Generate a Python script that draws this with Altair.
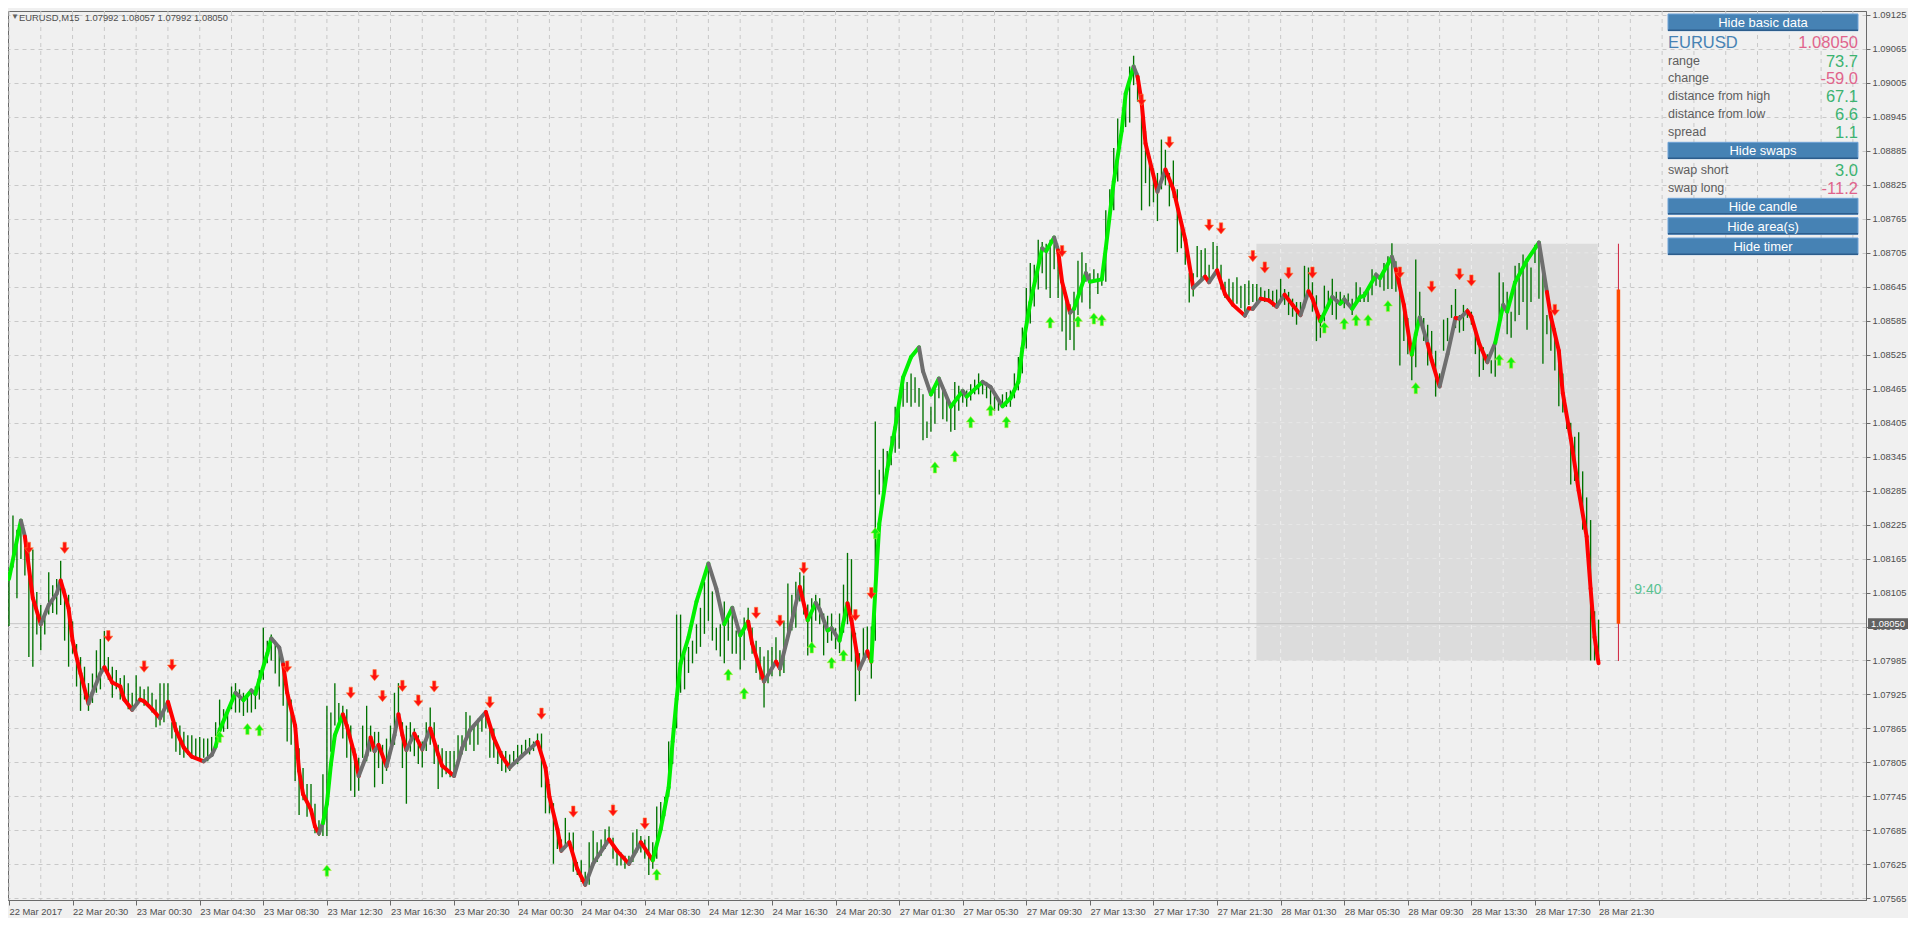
import json
import altair as alt
import pandas as pd

# ---------------- data (prices in 1e-5 units) ----------------
symbol = "EURUSD"
timeframe = "M15"
last_ohlc = ["1.07992", "1.08057", "1.07992", "1.08050"]

x_labels = ["22 Mar 2017", "22 Mar 20:30", "23 Mar 00:30", "23 Mar 04:30", "23 Mar 08:30",
            "23 Mar 12:30", "23 Mar 16:30", "23 Mar 20:30", "24 Mar 00:30", "24 Mar 04:30",
            "24 Mar 08:30", "24 Mar 12:30", "24 Mar 16:30", "24 Mar 20:30", "27 Mar 01:30",
            "27 Mar 05:30", "27 Mar 09:30", "27 Mar 13:30", "27 Mar 17:30", "27 Mar 21:30",
            "28 Mar 01:30", "28 Mar 05:30", "28 Mar 09:30", "28 Mar 13:30", "28 Mar 17:30",
            "28 Mar 21:30"]
x_label_bar = [0, 16, 32, 48, 64, 80, 96, 112, 128, 144, 160, 176, 192, 208, 224, 240,
               256, 272, 288, 304, 320, 336, 352, 368, 384, 400]
y_ticks = [1.07565, 1.07625, 1.07685, 1.07745, 1.07805, 1.07865, 1.07925, 1.07985, 1.08045,
           1.08105, 1.08165, 1.08225, 1.08285, 1.08345, 1.08405, 1.08465, 1.08525, 1.08585,
           1.08645, 1.08705, 1.08765, 1.08825, 1.08885, 1.08945, 1.09005, 1.09065, 1.09125]

bar_high = [
    108141, 108241, 108216, 108233, 108198, 108192, 108181, 108106, 108083, 108072,
    108141, 108118, 108129, 108161, 108112, 108101, 108054, 108014, 107991, 107974,
    107945, 107962, 108003, 108023, 108037, 107991, 107974, 107968, 107954, 107959,
    107945, 107928, 107959, 107939, 107934, 107939, 107928, 107916, 107945, 107945,
    107945, 107876, 107876, 107870, 107859, 107853, 107853, 107847, 107850, 107847,
    107847, 107850, 107876, 107916, 107899, 107893, 107939, 107945, 107934, 107928,
    107922, 107934, 107939, 107968, 108043, 108020, 108031, 108020, 108003, 107985,
    107928, 107916, 107870, 107830, 107795, 107767, 107767, 107732, 107703, 107784,
    107905, 107893, 107945, 107910, 107905, 107899, 107870, 107830, 107813, 107870,
    107905, 107870, 107859, 107859, 107836, 107847, 107870, 107928, 107945, 107876,
    107870, 107876,
    107865, 107853, 107842, 107876, 107902, 107876, 107836, 107830, 107825, 107825,
    107825, 107853, 107853, 107894, 107888, 107871, 107882, 107888, 107894, 107876,
    107865, 107836, 107825, 107825, 107819, 107825, 107836, 107836, 107845, 107848,
    107842, 107856, 107856, 107796, 107767, 107733, 107687, 107669, 107707, 107681,
    107681, 107629, 107632, 107612, 107664, 107684, 107664, 107669, 107687, 107692,
    107672, 107652, 107646, 107640, 107640, 107681, 107687, 107675, 107669, 107675,
    107664, 107727, 107735, 107744, 107842, 107865, 108066, 108066, 107997, 108009,
    108020, 108049, 108078, 108124, 108153, 108107, 108043, 108049, 108089, 108066,
    108072, 108038, 108038, 108061, 108078, 108043, 108020, 108009, 107992, 108003,
    108009, 108026, 108003, 108055, 108121, 108101, 108124, 108141, 108135, 108084,
    108095, 108101, 108095,
    108068, 108064, 108068, 108042, 108068, 108119, 108175, 108164, 108034, 107998,
    108042, 108045, 108045, 108407, 108322, 108359, 108355, 108381, 108433, 108440,
    108488, 108477, 108492, 108485, 108466, 108455, 108407, 108433, 108470, 108485,
    108470, 108448, 108437, 108477, 108470, 108462, 108462, 108473, 108481, 108492,
    108477, 108477, 108470, 108455, 108448, 108455, 108459, 108462, 108492, 108521,
    108573, 108643, 108687, 108684, 108728, 108724, 108721, 108728, 108732, 108717,
    108669, 108625, 108614, 108636, 108691, 108706, 108687, 108669, 108676, 108669,
    108673, 108780, 108817, 108890, 108942, 108942, 108994, 109034, 109053, 109023,
    108986, 108920, 108876, 108854, 108846, 108905, 108887, 108846, 108868, 108817,
    108750, 108735, 108669, 108669, 108717, 108710, 108713, 108684, 108724, 108717,
    108684, 108654,
    108659, 108653, 108662, 108647, 108650, 108656, 108650, 108650, 108644, 108638,
    108641, 108638, 108640, 108659, 108641, 108636, 108624, 108618, 108618, 108682,
    108679, 108653, 108630, 108595, 108647, 108638, 108659, 108636, 108636, 108630,
    108633, 108624, 108653, 108644, 108636, 108644, 108676, 108670, 108662, 108687,
    108699, 108722, 108690, 108676, 108618, 108590, 108538, 108693, 108636, 108590,
    108578, 108567, 108532, 108492, 108587, 108590, 108613, 108641, 108595, 108613,
    108607, 108601, 108572, 108549, 108538, 108526, 108515, 108549, 108670, 108653,
    108636, 108601, 108682, 108687, 108702, 108687, 108679, 108719, 108710, 108687,
    108595, 108601, 108572, 108532, 108492, 108411, 108405, 108380, 108388, 108319,
    108273, 108233, 108072, 108057,
]
bar_low = [
    108046, 108149, 108095, 108164, 108135, 107991, 107974, 108031, 108003, 108031,
    108066, 108069, 108066, 108083, 108020, 107974, 107997, 107939, 107896, 107916,
    107896, 107910, 107928, 107934, 107968, 107951, 107919, 107934, 107916, 107916,
    107899, 107896, 107905, 107913, 107905, 107905, 107893, 107867, 107870, 107876,
    107893, 107847, 107824, 107818, 107813, 107818, 107813, 107813, 107807, 107813,
    107807, 107818, 107830, 107847, 107859, 107864, 107899, 107893, 107893, 107887,
    107893, 107893, 107899, 107916, 107951, 107980, 107985, 107962, 107939, 107905,
    107842, 107836, 107772, 107712, 107738, 107709, 107715, 107680, 107675, 107675,
    107675, 107824, 107870, 107876, 107847, 107813, 107755, 107744, 107755, 107813,
    107807, 107824, 107761, 107795, 107767, 107790, 107836, 107836, 107882, 107795,
    107732, 107824,
    107816, 107802, 107796, 107825, 107836, 107802, 107758, 107779, 107784, 107779,
    107779, 107807, 107819, 107825, 107836, 107825, 107836, 107859, 107865, 107813,
    107813, 107802, 107790, 107787, 107790, 107802, 107802, 107813, 107825, 107819,
    107825, 107836, 107761, 107715, 107715, 107626, 107652, 107646, 107658, 107658,
    107612, 107606, 107594, 107586, 107589, 107623, 107629, 107640, 107652, 107664,
    107635, 107623, 107623, 107617, 107623, 107629, 107646, 107646, 107635, 107606,
    107617, 107635, 107687, 107710, 107744, 107802, 107865, 107928, 107934, 107963,
    107980, 107997, 108009, 108032, 108055, 108020, 108003, 107992, 107980, 108020,
    107997, 107997, 107969, 107986, 108038, 107997, 107963, 107951, 107902, 107945,
    107957, 107986, 107957, 107963, 108032, 108038, 108043, 108089, 108066, 107994,
    108009, 108055, 108049,
    107994, 108016, 108020, 108005, 107998, 108034, 108049, 107983, 107913, 107924,
    107983, 107990, 107953, 108020, 108278, 108278, 108315, 108330, 108352, 108359,
    108433, 108440, 108433, 108440, 108433, 108374, 108378, 108389, 108403, 108448,
    108411, 108407, 108389, 108392, 108426, 108440, 108433, 108444, 108455, 108455,
    108455, 108448, 108433, 108426, 108426, 108433, 108433, 108433, 108448, 108462,
    108492, 108536, 108580, 108610, 108640, 108669, 108640, 108625, 108676, 108625,
    108566, 108533, 108551, 108533, 108595, 108617, 108654, 108606, 108654, 108632,
    108647, 108654, 108765, 108780, 108831, 108920, 108927, 108935, 109001, 108972,
    108780, 108828, 108787, 108794, 108761, 108817, 108824, 108787, 108802, 108706,
    108713, 108684, 108617, 108628, 108662, 108654, 108662, 108654, 108676, 108669,
    108640, 108625,
    108618, 108613, 108615, 108607, 108601, 108613, 108618, 108618, 108624, 108618,
    108618, 108610, 108607, 108618, 108613, 108595, 108592, 108578, 108592, 108607,
    108638, 108601, 108549, 108555, 108584, 108607, 108595, 108587, 108613, 108607,
    108618, 108595, 108618, 108618, 108618, 108618, 108630, 108647, 108644, 108638,
    108641, 108641, 108636, 108506, 108549, 108526, 108480, 108503, 108584, 108549,
    108506, 108526, 108451, 108469, 108532, 108549, 108590, 108572, 108564, 108567,
    108590, 108578, 108526, 108486, 108498, 108509, 108492, 108486, 108572, 108607,
    108561, 108555, 108584, 108595, 108618, 108569, 108618, 108687, 108624, 108509,
    108561, 108532, 108497, 108434, 108423, 108394, 108296, 108302, 108290, 108216,
    108210, 107985, 107985, 107992,
]

# smoothed line: bar index, value, colour of the segment that starts there
# g = rising, r = falling, k = neutral
ma_idx = [0, 3, 4, 6, 8, 10, 12, 13, 15, 16,
          18, 20, 21, 23, 24, 26, 28, 29, 31, 33,
          34, 36, 38, 40, 42, 44, 46, 49, 51, 52,
          53, 57, 59, 61, 62, 63, 65, 66, 68, 69,
          70, 72, 73, 74, 76, 77, 78, 79, 80, 81,
          82, 84, 85, 87, 88, 90, 91, 92, 93, 95,
          97, 98, 99, 100, 102, 104, 106, 108, 109, 112,
          114, 116, 120, 122, 124, 126, 129, 133, 135, 136,
          138, 139, 141, 143, 145, 147, 151, 153, 156, 159,
          162, 164, 166, 167, 168, 169, 171, 173, 176, 178,
          180, 182, 184, 186, 187, 190, 193, 194, 197, 199,
          201, 203, 204, 206, 207, 209, 211, 212, 214, 216,
          217, 218, 219, 221, 223, 225, 227, 229, 230, 232,
          234, 237, 240, 241, 245, 247, 250, 252, 254, 255,
          257, 260, 261, 263, 264, 265, 267, 268, 271, 272,
          275, 276, 278, 280, 281, 283, 284, 285, 286, 289,
          291, 293, 296, 298, 301, 302, 304, 306, 308, 311,
          312, 313, 315, 317, 319, 321, 323, 325, 327, 328,
          330, 333, 335, 336, 338, 340, 341, 344, 345, 348,
          349, 351, 353, 354, 355, 357, 358, 360, 362, 364,
          365, 367, 368, 370, 372, 374, 376, 377, 379, 382,
          385, 387, 388, 390, 391, 393, 395, 397, 398, 399, 400]
ma_val = [108129, 108232, 108204, 108095, 108049, 108083, 108103, 108126, 108077, 108020,
          107962, 107909, 107928, 107962, 107973, 107946, 107939, 107916, 107898, 107916,
          107913, 107899, 107883, 107912, 107862, 107831, 107815, 107807, 107818, 107833,
          107862, 107928, 107915, 107932, 107926, 107951, 107997, 108024, 108008, 107978,
          107928, 107870, 107790, 107749, 107721, 107692, 107680, 107698, 107732, 107801,
          107853, 107890, 107870, 107818, 107781, 107818, 107849, 107825, 107836, 107798,
          107853, 107890, 107853, 107827, 107856, 107828, 107865, 107819, 107799, 107781,
          107830, 107862, 107894, 107848, 107816, 107796, 107816, 107841, 107796, 107744,
          107687, 107649, 107664, 107617, 107589, 107626, 107669, 107649, 107626, 107664,
          107632, 107687, 107761, 107842, 107917, 107980, 108026, 108089, 108156, 108112,
          108049, 108078, 108029, 108054, 108015, 107948, 107983, 107971, 108055, 108115,
          108056, 108087, 108075, 108038, 108042, 108020, 108086, 108056, 107970, 108001,
          107983, 108108, 108226, 108322, 108396, 108485, 108521, 108538, 108496, 108455,
          108483, 108433, 108461, 108451, 108477, 108468, 108434, 108448, 108477, 108536,
          108617, 108713, 108708, 108732, 108709, 108654, 108599, 108606, 108669, 108654,
          108658, 108713, 108831, 108920, 108986, 109034, 109016, 108972, 108898, 108813,
          108852, 108817, 108728, 108643, 108663, 108653, 108674, 108632, 108613, 108594,
          108607, 108606, 108624, 108621, 108610, 108631, 108613, 108595, 108637, 108624,
          108584, 108627, 108615, 108623, 108606, 108627, 108629, 108666, 108660, 108698,
          108676, 108613, 108525, 108561, 108591, 108544, 108515, 108469, 108526, 108590,
          108589, 108602, 108592, 108544, 108512, 108546, 108613, 108601, 108653, 108692,
          108723, 108636, 108592, 108532, 108457, 108377, 108285, 108204, 108112, 108026, 107980]
ma_col = ("gkrrkkkrrr" "rkkkrrrrkr" "rrkrrrrkkg" "gkgkgggkkr" "rrrrrrkggg"
          "grrrkkrkrk" "krrkrkrrrk" "kkrrrkkrrr" "rkrrkkrrkr" "ggggggggkk"
          "gkgrrkrkkr" "gkkgkgrrkr" "gggggggkkg" "kgkgkkgggg" "gkgkrrkgkg"
          "gggggkrrrk" "rrrkrkrrrk" "rkrrkrrkrr" "gkgkgggkgk" "rrggkrrkkr"
          "krrrkgkggg" "krrrrrrrrrr")

down_idx = [5, 14, 25, 34, 41, 70, 86, 92, 94, 99, 103, 107, 121, 134, 142, 152, 160, 188,
            194, 200, 213, 217, 265, 285, 292, 302, 305, 313, 316, 322, 328, 350, 358, 365,
            368, 389]
down_val = [108184, 108184, 108028, 107974, 107977, 107974, 107928, 107959, 107922, 107940,
            107914, 107939, 107911, 107891, 107718, 107720, 107697, 108069, 108055, 108148,
            108065, 108104, 108708, 108975, 108900, 108754, 108748, 108699, 108679, 108669,
            108670, 108670, 108645, 108667, 108656, 108604]
up_idx = [53, 60, 63, 80, 163, 181, 185, 202, 207, 210, 218, 233, 238, 242, 247, 251, 262,
          269, 273, 275, 331, 336, 339, 342, 347, 354, 375, 378]
up_val = [107850, 107864, 107862, 107614, 107607, 107960, 107927, 108008, 107981, 107994,
          108210, 108326, 108346, 108406, 108427, 108406, 108582, 108584, 108589, 108586,
          108573, 108580, 108586, 108586, 108611, 108466, 108516, 108511]

# today's area (28 Mar) and daily candle
area_from, area_to = 313.9, 399.8
day_open, day_high, day_low, day_close = 108640, 108721, 107984, 108050
candle_bar = 405
timer_text = "9:40"
timer_bar, timer_val = 409, 108110

panel_price = "1.08050"
panel_labels = ["range", "change", "distance from high", "distance from low", "spread"]
panel_values = ["73.7", "-59.0", "67.1", "6.6", "1.1"]
swap_labels = ["swap short", "swap long"]
swap_values = ["3.0", "-11.2"]
buttons = ["Hide basic data", "Hide swaps", "Hide candle", "Hide area(s)", "Hide timer"]

# ---------------- layout ----------------
W, H = 1858, 889
PAD_TOP = 3
XD = [-0.25, 467.3]
YD = [1.07562, 1.09132]
xs = alt.Scale(domain=XD, nice=False, zero=False)
ys = alt.Scale(domain=YD, nice=False, zero=False)
AXF = "Liberation Sans, Arial, sans-serif"
AXS = 9.4
PF = "Liberation Sans, Arial, sans-serif"
GREEN_T, PINK_T, GRAY_T = "#3CB371", "#E0648C", "#5E5E5E"


def P(v):
    return v / 1e5


def one(**kw):
    return pd.DataFrame({k: [v] for k, v in kw.items()})


label_expr = f"{json.dumps(x_labels)}[indexof({json.dumps(x_label_bar)}, datum.value)]"
x_axis = alt.Axis(values=x_label_bar, labelExpr=label_expr, title=None, grid=False,
                  tickSize=5, tickColor="#6A6A6A", domainColor="#6A6A6A",
                  labelAlign="left", labelBaseline="top", labelPadding=2, labelFont=AXF,
                  labelFontSize=AXS, labelColor="#4E4E4E", labelFlush=False,
                  labelOverlap=False)
y_axis = alt.Axis(values=y_ticks, format=".5f", orient="right", title=None, grid=True,
                  gridColor="#C8C8C8", gridDash=[4, 4], tickSize=4, tickColor="#6A6A6A",
                  domainColor="#6A6A6A", labelPadding=2, labelFont=AXF, labelFontSize=AXS,
                  labelColor="#4E4E4E", labelFlush=False, labelOverlap=False)


def X(f):
    return alt.X(f, scale=xs, axis=x_axis)


def Y(f):
    return alt.Y(f, scale=ys, axis=y_axis)


layers = []

# vertical grid (every 8 bars)
vgrid = pd.DataFrame({"g": list(range(0, 468, 8))})
layers.append(alt.Chart(vgrid).mark_rule(color="#C8C8C8", strokeDash=[4, 4], strokeWidth=1).encode(
    x=X("g:Q"), y=alt.value(0), y2=alt.value(H)))

# today's area rectangle
area_df = one(x0=area_from, x1=area_to, lo=P(day_low), hi=P(day_high))
layers.append(alt.Chart(area_df).mark_rect(color="#DCDCDC").encode(
    x=X("x0:Q"), x2="x1:Q", y=Y("lo:Q"), y2="hi:Q"))

# lighter grid inside the area
ig_v = pd.DataFrame({"g": [g for g in range(0, 468, 8) if area_from < g < area_to],
                     "lo": P(day_low), "hi": P(day_high)})
layers.append(alt.Chart(ig_v).mark_rule(color="#EFEFEF", strokeDash=[4, 4]).encode(
    x=X("g:Q"), y=Y("lo:Q"), y2="hi:Q"))
ig_h = pd.DataFrame({"t": [t for t in y_ticks if P(day_low) < t < P(day_high)],
                     "x0": area_from, "x1": area_to})
layers.append(alt.Chart(ig_h).mark_rule(color="#E6E6E6", strokeDash=[4, 4]).encode(
    y=Y("t:Q"), x=X("x0:Q"), x2="x1:Q"))

# current price line
layers.append(alt.Chart(one(p=P(day_close))).mark_rule(color="#C4C4C4", strokeWidth=1).encode(
    y=Y("p:Q"), x=alt.value(0), x2=alt.value(W)))

# bars
bars = pd.DataFrame({"i": list(range(len(bar_high))),
                     "hi": [P(v) for v in bar_high], "lo": [P(v) for v in bar_low]})
layers.append(alt.Chart(bars).mark_rule(color="#007200", strokeWidth=1.35).encode(
    x=X("i:Q"), y=Y("lo:Q"), y2="hi:Q"))

# coloured smoothed line
rows = []
for k in range(min(len(ma_idx), len(ma_val), len(ma_col)) - 1):
    for j in (k, k + 1):
        rows.append({"seg": k, "i": ma_idx[j], "p": P(ma_val[j]), "c": ma_col[k]})
ma_df = pd.DataFrame(rows)
layers.append(alt.Chart(ma_df).mark_line(strokeWidth=4, strokeCap="round", strokeJoin="round").encode(
    x=X("i:Q"), y=Y("p:Q"), detail="seg:N", order="i:Q",
    color=alt.Color("c:N", scale=alt.Scale(domain=["g", "r", "k"],
                                            range=["#00F000", "#FF0000", "#6E6E6E"]),
                    legend=None)))

# arrows
DOWN = "M-0.3,-1L0.3,-1L0.3,0L0.8,0L0,1L-0.8,0L-0.3,0Z"
UP = "M-0.3,1L0.3,1L0.3,0L0.8,0L0,-1L-0.8,0L-0.3,0Z"
dn_df = pd.DataFrame({"i": down_idx, "p": [P(v) for v in down_val]})
up_df = pd.DataFrame({"i": up_idx, "p": [P(v) for v in up_val]})
layers.append(alt.Chart(dn_df).mark_point(shape=DOWN, size=125, filled=True, fill="#FF1010",
                                          stroke="#FF7A30", strokeWidth=0.6, opacity=1).encode(
    x=X("i:Q"), y=Y("p:Q")))
layers.append(alt.Chart(up_df).mark_point(shape=UP, size=125, filled=True, fill="#10F010",
                                          stroke="#B8F040", strokeWidth=0.6, opacity=1).encode(
    x=X("i:Q"), y=Y("p:Q")))

# daily candle
cd = one(i=candle_bar, o=P(day_open), h=P(day_high), l=P(day_low), c=P(day_close))
layers.append(alt.Chart(cd).mark_rule(color="#D0203C", strokeWidth=1).encode(
    x=X("i:Q"), y=Y("l:Q"), y2="h:Q"))
layers.append(alt.Chart(cd).mark_rule(color="#FF4A00", strokeWidth=3.5).encode(
    x=X("i:Q"), y=Y("c:Q"), y2="o:Q"))

# timer
layers.append(alt.Chart(one(i=timer_bar, p=P(timer_val), t=timer_text)).mark_text(
    align="left", baseline="middle", font=PF, fontSize=14, color="#58C290").encode(
    x=X("i:Q"), y=Y("p:Q"), text="t:N"))

# top-left header
header = f"{symbol},{timeframe}\u00a0\u00a0" + " ".join(last_ohlc)
layers.append(alt.Chart(one(t="\u25BC")).mark_text(
    align="left", baseline="middle", font=PF, fontSize=8, color="#606060").encode(
    x=alt.value(3), y=alt.value(6), text="t:N"))
layers.append(alt.Chart(one(t=header)).mark_text(
    align="left", baseline="middle", font=AXF, fontSize=AXS, color="#4E4E4E").encode(
    x=alt.value(11), y=alt.value(6.5), text="t:N"))

# info panel (pixel layout, relative to the plot's top-right corner)
BX0, BX1 = W - 198, W - 8
OY = -PAD_TOP - 8
btn_rows = [(14, 30.7), (142.3, 158.7), (198.3, 214.3), (217.7, 234.3), (238, 254.7)]
for lab, (t0, t1) in zip(buttons, btn_rows):
    t0, t1 = t0 + OY, t1 + OY
    d = one(t=lab)
    layers.append(alt.Chart(d).mark_rect(fill="#4682B4", stroke="#6FA3D8", strokeWidth=1).encode(
        x=alt.value(BX0), x2=alt.value(BX1), y=alt.value(t0), y2=alt.value(t1)))
    layers.append(alt.Chart(d).mark_rule(color="#2C5D8C", strokeWidth=1.5).encode(
        x=alt.value(BX0), x2=alt.value(BX1), y=alt.value(t1 - 0.5)))
    layers.append(alt.Chart(d).mark_text(align="center", baseline="middle", font=PF,
                                         fontSize=13, color="white").encode(
        x=alt.value((BX0 + BX1) / 2), y=alt.value((t0 + t1) / 2 + 0.5), text="t:N"))

layers.append(alt.Chart(one(t=symbol)).mark_text(align="left", baseline="middle", font=PF,
                                                 fontSize=16.5, color="#4682B4").encode(
    x=alt.value(BX0), y=alt.value(43 + OY), text="t:N"))
layers.append(alt.Chart(one(t=panel_price)).mark_text(align="right", baseline="middle", font=PF,
                                                      fontSize=16.5, color=PINK_T).encode(
    x=alt.value(BX1), y=alt.value(43 + OY), text="t:N"))


def rows_layer(labels, values, y0, step):
    out = []
    for k, (lab, val) in enumerate(zip(labels, values)):
        yy = y0 + step * k + OY
        out.append(alt.Chart(one(t=lab)).mark_text(align="left", baseline="middle", font=PF,
                                                   fontSize=12.5, color=GRAY_T).encode(
            x=alt.value(BX0), y=alt.value(yy), text="t:N"))
        col = PINK_T if val.startswith("-") else GREEN_T
        out.append(alt.Chart(one(t=val)).mark_text(align="right", baseline="middle", font=PF,
                                                   fontSize=16.5, color=col).encode(
            x=alt.value(BX1), y=alt.value(yy + 1), text="t:N"))
    return out


layers += rows_layer(panel_labels, panel_values, 60.5, 17.9)
layers += rows_layer(swap_labels, swap_values, 169.7, 18)

# current price tag on the price axis
BOX = "M-1,-0.27L1,-0.27L1,0.27L-1,0.27Z"
layers.append(alt.Chart(one(p=P(day_close))).mark_point(
    shape=BOX, size=1600, filled=True, fill="#626262", opacity=1, strokeWidth=0).encode(
    x=alt.value(W + 22), y=Y("p:Q")))
layers.append(alt.Chart(one(p=P(day_close), t=panel_price)).mark_text(
    align="left", baseline="middle", font=AXF, fontSize=AXS, color="white").encode(
    x=alt.value(W + 5), y=Y("p:Q"), text="t:N"))

chart = alt.layer(*layers).properties(
    width=W, height=H, background="#F0F0F0",
    padding={"left": 0, "top": PAD_TOP, "right": 42, "bottom": 18},
    autosize=alt.AutoSizeParams(type="none"),
).configure_view(stroke="#6A6A6A", strokeWidth=1)

chart.save("out.html", embed_options={"renderer": "svg", "actions": False})
